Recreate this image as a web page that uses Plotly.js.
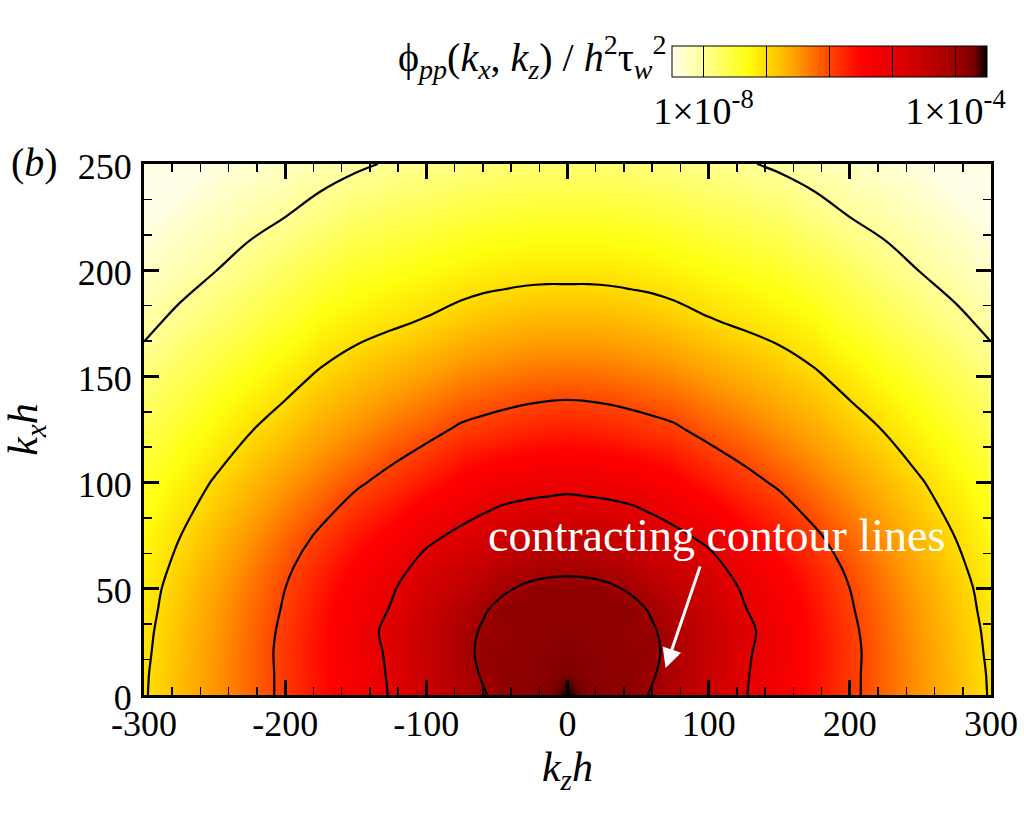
<!DOCTYPE html>
<html>
<head>
<meta charset="utf-8">
<script src="https://cdn.plot.ly/plotly-3.0.1.min.js"></script>
<style>
  body { margin: 0; background: #fff; }
  #spectrum { width: 1024px; height: 819px; }
</style>
</head>
<body>
<div id="spectrum"></div>
<script>
// half plane kz >= 0, field is mirrored to kz < 0
var kzHalf = [0, 15, 30, 45, 60, 75, 100, 125, 150, 175, 200, 225, 250, 275, 300];
var kxRows = [0, 10, 20, 30, 40, 50, 60, 75, 100, 125, 150, 175, 200, 225, 250];

// log10 of phi_pp / h^2 tau_w^2, one row per kx, columns follow kzHalf
var logPhiHalf = [
    [-3.50, -3.80, -3.85, -3.84, -4.04, -4.26, -4.61, -4.97, -5.29, -5.60, -5.91, -6.20, -6.48, -6.76, -7.03],
    [-3.72, -3.82, -3.86, -3.88, -3.96, -4.18, -4.56, -4.95, -5.27, -5.59, -5.91, -6.20, -6.48, -6.76, -7.04],
    [-3.80, -3.84, -3.87, -3.90, -3.91, -4.14, -4.53, -4.92, -5.26, -5.58, -5.90, -6.20, -6.49, -6.78, -7.06],
    [-3.85, -3.87, -3.89, -3.92, -3.95, -4.17, -4.54, -4.87, -5.25, -5.59, -5.92, -6.22, -6.51, -6.80, -7.08],
    [-3.90, -3.90, -3.88, -3.85, -4.05, -4.26, -4.61, -4.97, -5.30, -5.63, -5.96, -6.25, -6.54, -6.83, -7.11],
    [-3.84, -3.86, -3.93, -4.06, -4.26, -4.45, -4.70, -5.05, -5.36, -5.68, -6.00, -6.29, -6.58, -6.86, -7.14],
    [-4.11, -4.13, -4.19, -4.30, -4.48, -4.62, -4.83, -5.19, -5.46, -5.77, -6.07, -6.36, -6.64, -6.92, -7.18],
    [-4.50, -4.53, -4.58, -4.66, -4.78, -4.90, -5.11, -5.43, -5.66, -5.94, -6.21, -6.48, -6.75, -7.01, -7.26],
    [-5.14, -5.17, -5.20, -5.24, -5.32, -5.41, -5.66, -5.87, -6.06, -6.29, -6.51, -6.74, -6.97, -7.20, -7.43],
    [-5.71, -5.73, -5.77, -5.82, -5.88, -5.94, -6.12, -6.27, -6.46, -6.63, -6.84, -7.02, -7.23, -7.43, -7.64],
    [-6.23, -6.24, -6.26, -6.30, -6.34, -6.40, -6.54, -6.67, -6.80, -6.95, -7.13, -7.31, -7.49, -7.67, -7.85],
    [-6.69, -6.69, -6.71, -6.75, -6.78, -6.84, -6.96, -7.05, -7.14, -7.26, -7.46, -7.61, -7.76, -7.91, -8.08],
    [-7.11, -7.11, -7.12, -7.14, -7.17, -7.21, -7.29, -7.36, -7.45, -7.56, -7.71, -7.86, -8.01, -8.15, -8.30],
    [-7.45, -7.45, -7.46, -7.48, -7.50, -7.54, -7.61, -7.67, -7.75, -7.87, -8.00, -8.11, -8.23, -8.36, -8.50],
    [-7.79, -7.79, -7.80, -7.82, -7.84, -7.87, -7.92, -7.97, -8.05, -8.14, -8.25, -8.35, -8.46, -8.59, -8.72]
];

var contourLevels = [-8, -7, -6, -5, -4];
var cbTickText = ['1×10<sup>-8</sup>', '', '', '', '1×10<sup>-4</sup>'];
var kzTicks = [-300, -200, -100, 0, 100, 200, 300];
var kzTickText = ['-300', '-200', '-100', '0', '100', '200', '300'];
var kxTicks = [0, 50, 100, 150, 200, 250];

var kzFull = kzHalf.slice(1).reverse().map(v => -v).concat(kzHalf);
var zFull = logPhiHalf.map(row => row.slice(1).reverse().concat(row));

var serif = 'Liberation Serif, Times New Roman, serif';

var hotScale = [
    [0.00, '#FFFFE8'],
    [0.10, '#FFFF99'],
    [0.24, '#FFFF10'],
    [0.30, '#FFDD00'],
    [0.40, '#FF9900'],
    [0.50, '#FF4400'],
    [0.60, '#FF0000'],
    [0.70, '#E50000'],
    [0.80, '#C40000'],
    [0.90, '#A00000'],
    [0.96, '#780000'],
    [1.00, '#000000']
];

var field = {
    type: 'heatmap',
    x: kzFull,
    y: kxRows,
    z: zFull,
    zmin: -8.5,
    zmax: -3.5,
    zsmooth: 'best',
    colorscale: hotScale,
    hoverinfo: 'skip',
    colorbar: {
        orientation: 'h',
        x: 0.8093, xanchor: 'center',
        y: 1.2222, yanchor: 'top',
        len: 315, lenmode: 'pixels',
        thickness: 31, thicknessmode: 'pixels',
        xpad: 0, ypad: 0,
        outlinewidth: 1, outlinecolor: 'black',
        tickvals: contourLevels,
        ticktext: cbTickText,
        ticks: 'inside', ticklen: 31, tickwidth: 1, tickcolor: 'black',
        tickfont: {family: serif, size: 38, color: 'black'}
    }
};

var lines = {
    type: 'contour',
    x: kzFull,
    y: kxRows,
    z: zFull,
    autocontour: false,
    contours: {start: contourLevels[0], end: contourLevels[contourLevels.length - 1], size: 1, coloring: 'none'},
    line: {color: 'black', width: 2.2, smoothing: 1},
    showscale: false,
    hoverinfo: 'skip'
};

var axisCommon = {
    showline: true, linewidth: 3, linecolor: 'black',
    mirror: 'allticks',
    ticks: 'inside', ticklen: 15, tickwidth: 3, tickcolor: 'black',
    showgrid: false, zeroline: false,
    tickfont: {family: serif, size: 36, color: 'black'}
};

var layout = {
    width: 1024, height: 819,
    margin: {l: 144, r: 33, t: 164, b: 124, autoexpand: false},
    paper_bgcolor: 'white',
    plot_bgcolor: 'white',
    showlegend: false,
    xaxis: Object.assign({}, axisCommon, {
        range: [-300, 300],
        tickmode: 'array', tickvals: kzTicks, ticktext: kzTickText,
        ticklabelstandoff: -5,
        minor: {ticks: 'inside', ticklen: 8, tickwidth: 1.5, tickcolor: 'black', dtick: 20, tick0: 0},
        title: {text: '<i>k</i><sub><i>z</i></sub><i>h</i>', font: {family: serif, size: 42, color: 'black'}, standoff: 0}
    }),
    yaxis: Object.assign({}, axisCommon, {
        range: [0, 250],
        tickmode: 'array', tickvals: kxTicks,
        ticklabelstandoff: 2,
        ticklabelshift: 2,
        minor: {ticks: 'inside', ticklen: 8, tickwidth: 1.5, tickcolor: 'black', dtick: 50 / 3, tick0: 0},
        title: {text: '<i>k</i><sub><i>x</i></sub><i>h</i>', font: {family: serif, size: 42, color: 'black'}, standoff: 30}
    }),
    annotations: [
        {
            xref: 'paper', yref: 'paper', x: 0.6187, y: 1.202,
            xanchor: 'right', yanchor: 'middle', showarrow: false,
            text: 'ϕ<sub><i>pp</i></sub>(<i>k</i><sub><i>x</i></sub>, <i>k</i><sub><i>z</i></sub>) / <i>h</i><sup>2</sup>τ<sub><i>w</i></sub><sup>2</sup>',
            font: {family: serif, size: 40, color: 'black'}
        },
        {
            xref: 'paper', yref: 'paper', x: -0.1287, y: 1.002,
            xanchor: 'center', yanchor: 'middle', showarrow: false,
            text: '(<i>b</i>)',
            font: {family: serif, size: 40, color: 'black'}
        },
        {
            x: 105.7, y: 75.3, xref: 'x', yref: 'y',
            xanchor: 'center', yanchor: 'middle', showarrow: false,
            text: 'contracting contour lines',
            font: {family: serif, size: 46, color: 'white'}
        },
        {
            x: 69.5, y: 12.7, xref: 'x', yref: 'y',
            ax: 35, ay: -103, text: '',
            showarrow: true, arrowcolor: 'white', arrowwidth: 3,
            arrowhead: 2, arrowsize: 1.3
        }
    ]
};

Plotly.newPlot('spectrum', [field, lines], layout, {displayModeBar: false, staticPlot: true});
</script>
</body>
</html>
